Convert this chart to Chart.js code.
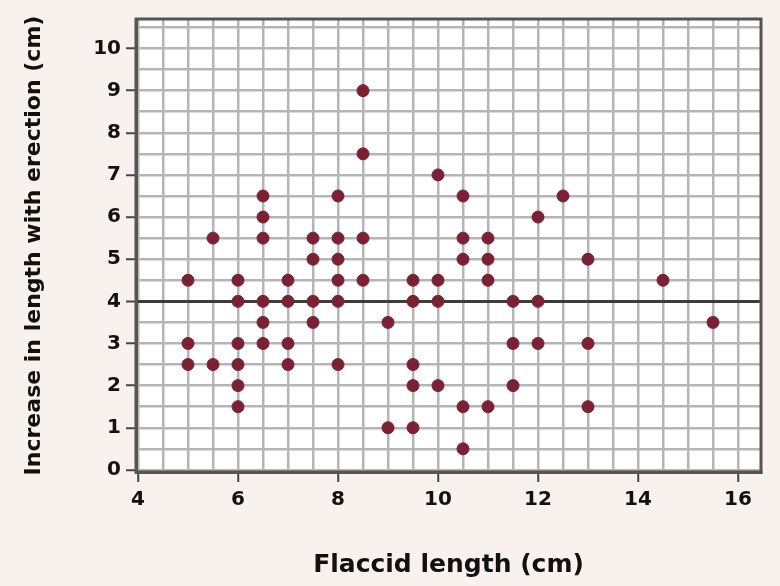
<!DOCTYPE html>
<html>
<head>
<meta charset="utf-8">
<script src="https://cdn.jsdelivr.net/npm/chart.js@4/dist/chart.umd.min.js"></script>
<style>
  html, body { margin: 0; padding: 0; background: #f8f1ee; }
  #wrap { width: 780px; height: 586px; }
</style>
</head>
<body>
<div id="wrap"><canvas id="chart" width="780" height="586"></canvas></div>
<script>
// Flaccid length (cm) of each subject, paired with the increase on erection (cm)
const flaccidLength = [
  5, 5, 5,
  5.5, 5.5,
  6, 6, 6, 6, 6, 6,
  6.5, 6.5, 6.5, 6.5, 6.5, 6.5,
  7, 7, 7, 7,
  7.5, 7.5, 7.5, 7.5,
  8, 8, 8, 8, 8, 8,
  8.5, 8.5, 8.5, 8.5,
  9, 9,
  9.5, 9.5, 9.5, 9.5, 9.5,
  10, 10, 10, 10,
  10.5, 10.5, 10.5, 10.5, 10.5,
  11, 11, 11, 11,
  11.5, 11.5, 11.5,
  12, 12, 12,
  12.5,
  13, 13, 13,
  14.5,
  15.5
];
const lengthIncrease = [
  4.5, 3, 2.5,
  5.5, 2.5,
  4.5, 4, 3, 2.5, 2, 1.5,
  6.5, 6, 5.5, 4, 3.5, 3,
  4.5, 4, 3, 2.5,
  5.5, 5, 4, 3.5,
  6.5, 5.5, 5, 4.5, 4, 2.5,
  9, 7.5, 5.5, 4.5,
  3.5, 1,
  4.5, 4, 2.5, 2, 1,
  7, 4.5, 4, 2,
  6.5, 5.5, 5, 1.5, 0.5,
  5.5, 5, 4.5, 1.5,
  4, 3, 2,
  6, 4, 3,
  6.5,
  5, 3, 1.5,
  4.5,
  3.5
];

// axis ticks: labelled ones, and the finer grid between them
const xLabelTicks = [4, 6, 8, 10, 12, 14, 16];
const yLabelTicks = [0, 1, 2, 3, 4, 5, 6, 7, 8, 9, 10];
const referenceLine = 4;

const gridStep = 0.5;
function gridValues(from, to) {
  const out = [];
  for (let v = from; v <= to + 1e-9; v += gridStep) out.push({ value: Math.round(v * 10) / 10 });
  return out;
}

const points = flaccidLength.map((x, i) => ({ x: x, y: lengthIncrease[i] }));

// white plot area plus a dark frame around it
const plotFrame = {
  id: 'plotFrame',
  beforeDraw(chart) {
    const { ctx, chartArea: a } = chart;
    ctx.save();
    ctx.fillStyle = '#ffffff';
    ctx.fillRect(a.left, a.top, a.right - a.left, a.bottom - a.top);
    ctx.restore();
  },
  afterDraw(chart) {
    const { ctx, chartArea: a } = chart;
    ctx.save();
    ctx.strokeStyle = '#555555';
    ctx.lineWidth = 3;
    ctx.strokeRect(a.left, a.top, a.right - a.left, a.bottom - a.top);
    ctx.restore();
  }
};

const tickFont = { family: 'DejaVu Sans', size: 20, weight: 'bold' };

new Chart(document.getElementById('chart'), {
  type: 'scatter',
  data: {
    datasets: [{
      data: points,
      backgroundColor: '#7a2234',
      borderColor: '#7a2234',
      pointRadius: 6,
      pointHoverRadius: 6
    }]
  },
  options: {
    responsive: false,
    animation: false,
    layout: { padding: { top: 19, right: 19, left: 0, bottom: 0 } },
    plugins: {
      legend: { display: false },
      tooltip: { enabled: false }
    },
    scales: {
      x: {
        type: 'linear',
        min: 3.96,
        max: 16.46,
        afterBuildTicks: scale => { scale.ticks = gridValues(4, 16); },
        afterFit: scale => { scale.height = 114; },
        ticks: {
          autoSkip: false,
          maxRotation: 0,
          padding: 6,
          color: '#111111',
          font: tickFont,
          callback: v => xLabelTicks.includes(v) ? v : ''
        },
        grid: {
          color: '#b5b5b5',
          lineWidth: 2.5,
          tickLength: 10,
          tickWidth: 2,
          tickColor: ctx => xLabelTicks.includes(ctx.tick.value) ? '#444444' : 'rgba(0,0,0,0)'
        },
        border: { display: true, color: '#555555', width: 3 },
        title: {
          display: true,
          text: 'Flaccid length (cm)',
          color: '#111111',
          font: { family: 'DejaVu Sans', size: 25, weight: 'bold' },
          padding: { top: 0, bottom: 6 }
        }
      },
      y: {
        type: 'linear',
        min: -0.05,
        max: 10.7,
        afterBuildTicks: scale => { scale.ticks = gridValues(0, 10.5); },
        afterFit: scale => { scale.width = 136; },
        ticks: {
          autoSkip: false,
          padding: 5,
          color: '#111111',
          font: tickFont,
          callback: v => yLabelTicks.includes(v) ? v : ''
        },
        grid: {
          color: ctx => ctx.tick && ctx.tick.value === referenceLine ? '#3c3c3c' : '#b5b5b5',
          lineWidth: ctx => ctx.tick && ctx.tick.value === referenceLine ? 3 : 2.5,
          tickLength: 10,
          tickWidth: 2,
          tickColor: ctx => yLabelTicks.includes(ctx.tick.value) ? '#444444' : 'rgba(0,0,0,0)'
        },
        border: { display: true, color: '#555555', width: 3 },
        title: {
          display: true,
          text: 'Increase in length with erection (cm)',
          color: '#111111',
          font: { family: 'DejaVu Sans', size: 22, weight: 'bold' },
          padding: { top: 21, bottom: 0 }
        }
      }
    }
  },
  plugins: [plotFrame]
});
</script>
</body>
</html>
